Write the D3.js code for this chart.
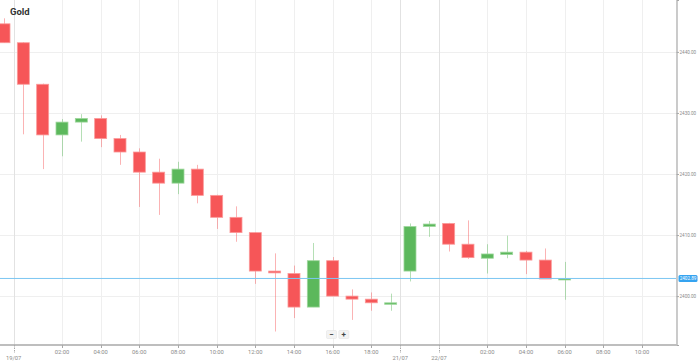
<!DOCTYPE html>
<html>
<head>
<meta charset="utf-8">
<script src="https://cdn.jsdelivr.net/npm/d3@7/dist/d3.min.js"></script>
<style>
  html, body { margin: 0; padding: 0; background: #fff; }
  svg { display: block; font-family: Roboto, "Noto Sans", sans-serif; }
</style>
</head>
<body>
<svg id="chart" width="699" height="363"></svg>
<script>
// ---------- data ----------
const title = "Gold";
const categories = [
  "18/07 23:00",
  "19/07 00:00","19/07 01:00","19/07 02:00","19/07 03:00","19/07 04:00","19/07 05:00",
  "19/07 06:00","19/07 07:00","19/07 08:00","19/07 09:00","19/07 10:00","19/07 11:00",
  "19/07 12:00","19/07 13:00","19/07 14:00","19/07 15:00","19/07 16:00","19/07 17:00",
  "19/07 18:00","19/07 19:00",
  "21/07 22:00","21/07 23:00",
  "22/07 00:00","22/07 01:00","22/07 02:00","22/07 03:00","22/07 04:00","22/07 05:00","22/07 06:00"
];
const openValues  = [2444.6,2441.5,2434.7,2426.4,2428.5,2429.1,2425.8,2423.6,2420.3,2418.5,2420.8,2416.5,2412.9,2410.4,2404.1,2403.7,2398.2,2405.8,2400.0,2399.5,2398.85,2404.1,2411.4,2411.9,2408.5,2406.2,2406.8,2407.2,2405.9,2402.8];
const highValues  = [2445.5,2441.6,2434.8,2429.0,2429.8,2429.6,2426.4,2424.2,2422.5,2422.0,2421.5,2416.6,2414.7,2410.5,2407.0,2405.0,2408.7,2406.4,2401.1,2400.6,2400.4,2411.9,2412.3,2412.0,2412.4,2408.5,2409.9,2407.4,2407.8,2405.6];
const lowValues   = [2441.5,2426.5,2420.8,2422.9,2425.3,2424.4,2421.5,2414.6,2413.3,2416.7,2415.2,2411.0,2408.9,2402.0,2394.2,2396.4,2398.2,2400.0,2396.1,2397.6,2397.6,2402.4,2409.7,2407.3,2406.1,2403.7,2406.2,2403.6,2402.8,2399.4];
const closeValues = [2441.5,2434.7,2426.4,2428.5,2429.1,2425.8,2423.6,2420.3,2418.5,2420.8,2416.5,2412.9,2410.4,2404.1,2403.8,2398.2,2405.8,2400.0,2399.5,2398.9,2398.9,2411.4,2411.8,2408.5,2406.3,2406.9,2407.2,2405.9,2402.8,2402.89];
const currentPrice = 2402.89;
const priceTicks = [2400, 2410, 2420, 2430, 2440];
const hourTicks = ["19/07 02:00","19/07 04:00","19/07 06:00","19/07 08:00","19/07 10:00","19/07 12:00","19/07 14:00","19/07 16:00","19/07 18:00",
                   "22/07 02:00","22/07 04:00","22/07 06:00","22/07 08:00","22/07 10:00"];
const dayTicks = ["19/07","21/07","22/07"];

// ---------- helpers ----------
const candles = categories.map((t, i) => ({
  t, i, o: openValues[i], h: highValues[i], l: lowValues[i], c: closeValues[i]
}));
const hourOf = s => +s.split(" ")[1].split(":")[0];
function slotOf(t) {
  const k = categories.indexOf(t);
  if (k >= 0) return k;
  const last = categories[categories.length - 1];
  return categories.length - 1 + (hourOf(t) - hourOf(last));
}
function daySlot(day) {
  const k = categories.findIndex(c => c.startsWith(day));
  return k - 0.5;
}

// ---------- layout ----------
const svg = d3.select("#chart");
const plotL = 0, plotR = 676, plotT = 0, plotB = 345;

const x = d3.scaleLinear().domain([-0.207, 34.76]).range([plotL, plotR]);
const y = d3.scaleLinear().domain([2391.99, 2448.5]).range([plotB, plotT]);

const defs = svg.append("defs");
defs.append("clipPath").attr("id", "plotclip")
  .append("rect").attr("x", plotL).attr("y", plotT).attr("width", plotR - plotL).attr("height", plotB - plotT);

// grid
const grid = svg.append("g");
grid.selectAll("line.h").data(priceTicks).join("line")
  .attr("x1", plotL).attr("x2", plotR)
  .attr("y1", d => Math.round(y(d)) + 0.5).attr("y2", d => Math.round(y(d)) + 0.5)
  .attr("stroke", "#efefef").attr("stroke-width", 1);
grid.selectAll("line.v").data(hourTicks).join("line")
  .attr("x1", d => Math.round(x(slotOf(d))) + 0.5).attr("x2", d => Math.round(x(slotOf(d))) + 0.5)
  .attr("y1", plotT).attr("y2", plotB)
  .attr("stroke", "#efefef").attr("stroke-width", 1);
grid.selectAll("line.d").data(dayTicks).join("line")
  .attr("x1", d => Math.round(x(daySlot(d))) + 0.5).attr("x2", d => Math.round(x(daySlot(d))) + 0.5)
  .attr("y1", plotT).attr("y2", plotB)
  .attr("stroke", "#e2e2e2").attr("stroke-width", 1);

// candles
const red = "#f65658", green = "#5cb85c";
const cw = 12;
const cg = svg.append("g").attr("clip-path", "url(#plotclip)");
const cs = cg.selectAll("g.candle").data(candles).join("g");
cs.append("line")
  .attr("x1", d => Math.round(x(d.i)) + 0.5).attr("x2", d => Math.round(x(d.i)) + 0.5)
  .attr("y1", d => y(d.h)).attr("y2", d => y(d.l))
  .attr("stroke", d => d.c >= d.o ? green : red)
  .attr("stroke-opacity", 0.45).attr("stroke-width", 1);
cs.append("rect")
  .attr("x", d => x(d.i) - cw / 2)
  .attr("width", cw)
  .attr("y", d => y(Math.max(d.o, d.c)))
  .attr("height", d => Math.max(1.5, Math.abs(y(d.o) - y(d.c))))
  .attr("fill", d => d.c >= d.o ? green : red)
  .attr("stroke", d => d.c >= d.o ? "#9fd79d" : "#fb9a9a")
  .attr("stroke-width", 0.8);

// current price line
svg.append("line")
  .attr("x1", plotL).attr("x2", plotR)
  .attr("y1", y(currentPrice)).attr("y2", y(currentPrice))
  .attr("stroke", "#7cc6f2").attr("stroke-width", 1);

// right axis
const yAxis = d3.axisRight(y).tickValues(priceTicks).tickFormat(d3.format(".2f")).tickSize(2.5).tickPadding(0.5);
const ya = svg.append("g").attr("transform", `translate(${plotR + 0.5},0)`).call(yAxis);
ya.select(".domain").attr("stroke", "#a8a8a8").attr("stroke-width", 1.2);
ya.selectAll(".tick line").attr("stroke", "#a8a8a8");
ya.selectAll(".tick text").attr("fill", "#8a8a8a").attr("font-size", 4.6).attr("font-family", "Roboto");

// current price label
const cpG = svg.append("g").attr("transform", `translate(${plotR + 1},${y(currentPrice)})`);
cpG.append("rect").attr("x", 1.5).attr("y", -3.5).attr("width", 19).attr("height", 7).attr("rx", 1.5).attr("fill", "#35a3f0");
cpG.append("text").attr("x", 11).attr("y", 0).attr("dy", "0.35em").attr("text-anchor", "middle")
  .attr("fill", "#fff").attr("font-size", 4.6).text(d3.format(".2f")(currentPrice));

// bottom axis
svg.append("line").attr("x1", plotL).attr("x2", plotR + 0.5).attr("y1", plotB).attr("y2", plotB)
  .attr("stroke", "#a8a8a8").attr("stroke-width", 1.4);
const xa = svg.append("g");
xa.selectAll("line.ht").data(hourTicks).join("line")
  .attr("x1", d => Math.round(x(slotOf(d))) + 0.5).attr("x2", d => Math.round(x(slotOf(d))) + 0.5)
  .attr("y1", plotB).attr("y2", plotB + 3).attr("stroke", "#a8a8a8");
xa.selectAll("text.ht").data(hourTicks).join("text")
  .attr("x", d => x(slotOf(d))).attr("y", plotB + 6.5).attr("dy", "0.35em")
  .attr("text-anchor", "middle").attr("fill", "#8a8a8a").attr("font-size", 5.8)
  .text(d => d.split(" ")[1]);
xa.selectAll("line.dt").data(dayTicks).join("line")
  .attr("x1", d => Math.round(x(daySlot(d))) + 0.5).attr("x2", d => Math.round(x(daySlot(d))) + 0.5)
  .attr("y1", plotB).attr("y2", plotB + 8).attr("stroke", "#a8a8a8").attr("stroke-dasharray", "1.5,1");
xa.selectAll("text.dt").data(dayTicks).join("text")
  .attr("x", d => x(daySlot(d))).attr("y", plotB + 12.5).attr("dy", "0.35em")
  .attr("text-anchor", "middle").attr("fill", "#8a8a8a").attr("font-size", 5.8)
  .text(d => d);

// zoom buttons
const btns = [{s: "−", cx: 331.5}, {s: "+", cx: 343.8}];
const bg = svg.append("g");
btns.forEach(b => {
  bg.append("rect").attr("x", b.cx - 5).attr("y", 330.5).attr("width", 10).attr("height", 8).attr("rx", 1)
    .attr("fill", "#f3f3f3").attr("stroke", "#e4e4e4").attr("stroke-width", 0.6);
  bg.append("text").attr("x", b.cx).attr("y", 334.6).attr("dy", "0.35em").attr("text-anchor", "middle")
    .attr("font-size", 8).attr("font-weight", "bold").attr("fill", "#444").text(b.s);
});

// title
svg.append("text").attr("x", 10).attr("y", 15).attr("font-size", 9.5).attr("font-weight", "bold")
  .attr("fill", "#333").text(title);
</script>
</body>
</html>
